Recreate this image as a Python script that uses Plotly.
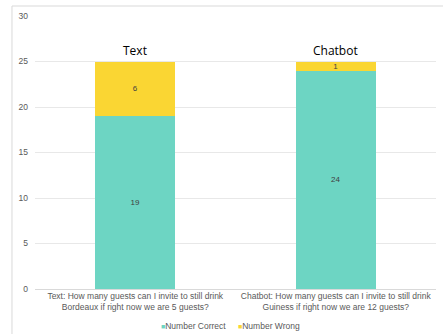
import plotly.graph_objects as go

categories = [
    "Text: How many guests can I invite to still drink<br>Bordeaux if right now we are 5 guests?",
    "Chatbot: How many guests can I invite to still drink<br>Guiness if right now we are 12 guests?",
]
group_titles = ["Text", "Chatbot"]
number_correct = [19, 24]
number_wrong = [6, 1]
y_ticks = [0, 5, 10, 15, 20, 25, 30]
series_names = ["Number Correct", "Number Wrong"]

TEAL = "#6dd5c3"
YELLOW = "#fad633"
SANS = "Liberation Sans, Arial, sans-serif"
label_font = dict(family=SANS, size=8, color="#404040")
axis_font = dict(family=SANS, size=8.5, color="#595959")

fig = go.Figure()
for name, values, color in zip(series_names, [number_correct, number_wrong], [TEAL, YELLOW]):
    fig.add_trace(go.Bar(
        name=name, x=categories, y=values,
        marker=dict(color=color, line=dict(width=0)),
        text=[str(v) for v in values], textposition="inside", textangle=0,
        insidetextanchor="middle", textfont=label_font, width=0.4,
        showlegend=False,
    ))

# group titles above each stacked bar
for cat, title, c, w in zip(categories, group_titles, number_correct, number_wrong):
    fig.add_annotation(
        x=cat, y=c + w, text=title, showarrow=False, yanchor="bottom", yshift=1,
        font=dict(family="Open Sans, Lato, sans-serif", size=12, color="#000000"),
    )

# compact legend row below the axis, one entry per series
legend_x = [0.31, 0.502]
for name, col, lx in zip(series_names, [TEAL, YELLOW], legend_x):
    fig.add_annotation(
        xref="paper", yref="paper", x=lx, y=-0.1355, xanchor="left", yanchor="middle",
        text=f"<span style='color:{col};font-size:7px'>■</span>{name}",
        showarrow=False, font=axis_font,
    )

# light outline of the chart frame
fig.add_shape(
    type="rect", xref="paper", yref="paper",
    x0=-0.0574, x1=1.2, y0=-0.3, y1=1.0366,
    line=dict(color="#d9d9d9", width=1), fillcolor="rgba(0,0,0,0)", layer="below",
)

fig.update_layout(
    barmode="stack",
    width=443, height=334,
    margin=dict(l=35, r=7, t=16, b=45, autoexpand=False),
    paper_bgcolor="white", plot_bgcolor="white",
    showlegend=False,
    uniformtext=dict(mode="show", minsize=8),
    font=axis_font,
)
fig.update_yaxes(
    range=[0, 30], tickvals=y_ticks, showgrid=True, gridcolor="#e8e8e8", gridwidth=1,
    zeroline=True, zerolinecolor="#d9d9d9", zerolinewidth=1, showline=False,
    ticks="", ticklabelstandoff=6, tickfont=axis_font, automargin=False,
)
fig.update_xaxes(
    showline=False, ticks="", showgrid=False, tickfont=axis_font, automargin=False,
)

fig.write_html("out.html")
